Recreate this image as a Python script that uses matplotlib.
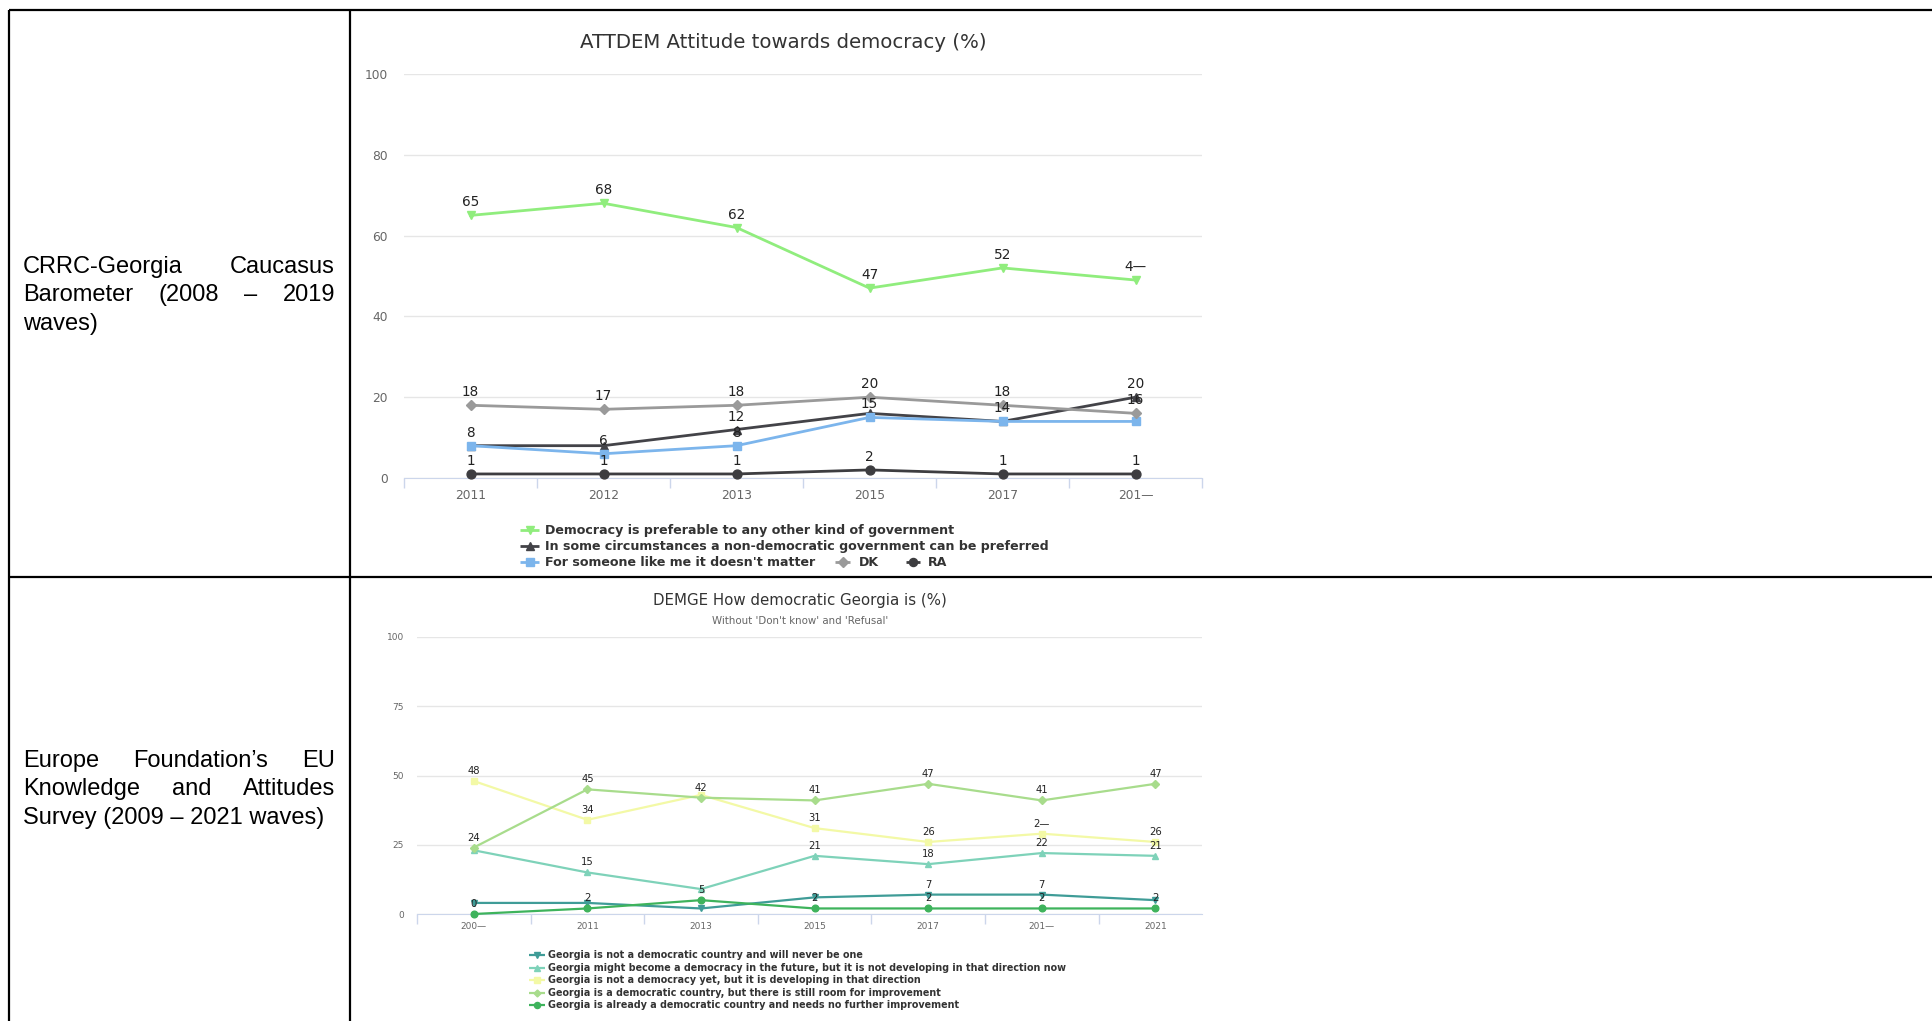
import numpy as np
import matplotlib.pyplot as plt

# Caucasus Barometer waves
cb_years = ["2011", "2012", "2013", "2015", "2017", "201—"]
democracy_preferable = [65, 68, 62, 47, 52, 49]
non_democratic_ok = [8, 8, 12, 16, 14, 20]
doesnt_matter = [8, 6, 8, 15, 14, 14]
dont_know = [18, 17, 18, 20, 18, 16]
refused = [1, 1, 1, 2, 1, 1]
cb_names = [
    "Democracy is preferable to any other kind of government",
    "In some circumstances a non-democratic government can be preferred",
    "For someone like me it doesn't matter",
    "DK",
    "RA",
]

# Europe Foundation EU survey waves
ef_years = ["200—", "2011", "2013", "2015", "2017", "201—", "2021"]
never_democracy = [4, 4, 2, 6, 7, 7, 5]
might_become = [23, 15, 9, 21, 18, 22, 21]
developing = [48, 34, 43, 31, 26, 29, 26]
room_to_improve = [24, 45, 42, 41, 47, 41, 47]
already_democratic = [0, 2, 5, 2, 2, 2, 2]
ef_names = [
    "Georgia is not a democratic country and will never be one",
    "Georgia might become a democracy in the future, but it is not developing in that direction now",
    "Georgia is not a democracy yet, but it is developing in that direction",
    "Georgia is a democratic country, but there is still room for improvement",
    "Georgia is already a democratic country and needs no further improvement",
]

cb_series = [democracy_preferable, non_democratic_ok, doesnt_matter, dont_know, refused]
cb_colors = ["#90ed7d", "#434348", "#7cb5ec", "#9a9a9a", "#3d3d40"]
cb_markers = ["v", "^", "s", "D", "o"]
cb_hidden = [[], [1, 3, 4], [0, 5], [], []]
cb_cut = [(0, 5)]

ef_series = [never_democracy, might_become, developing, room_to_improve, already_democratic]
ef_colors = ["#3f9c97", "#7ed2b9", "#f3f9a6", "#a8dc8c", "#3eb35c"]
ef_markers = ["v", "^", "s", "D", "o"]
ef_hidden = [[0, 1, 2, 3, 6], [0, 2], [2], [], []]
ef_cut = [(2, 5)]

W, H = 1932, 1021
fig = plt.figure(figsize=(W / 100, H / 100), dpi=100)
fig.patch.set_facecolor("white")

bg = fig.add_axes([0, 0, 1, 1])
bg.set_xlim(0, W)
bg.set_ylim(H, 0)
bg.axis("off")

# table borders
border = dict(color="black", lw=1.6, solid_capstyle="butt")
bg.plot([9, W], [10, 10], **border)
bg.plot([9, W], [577, 577], **border)
bg.plot([9, 9], [10, H], **border)
bg.plot([350, 350], [10, H], **border)

renderer = fig.canvas.get_renderer()


def justified(lines, x0, x1, y0, step, size=17):
    for k, line in enumerate(lines):
        y = y0 + k * step
        if k == len(lines) - 1:
            bg.text(x0, y, line, fontsize=size, family="Liberation Sans",
                    va="center", ha="left")
            continue
        words = line.split(" ")
        texts = [bg.text(x0, y, w, fontsize=size, family="Liberation Sans",
                         va="center", ha="left") for w in words]
        widths = [t.get_window_extent(renderer).width for t in texts]
        gap = (x1 - x0 - sum(widths)) / (len(words) - 1)
        x = x0
        for t, w in zip(texts, widths):
            t.set_x(x)
            x += w + gap


justified(["CRRC-Georgia Caucasus", "Barometer (2008 – 2019", "waves)"], 23, 335, 267, 28.3)
justified(["Europe Foundation’s EU", "Knowledge and Attitudes", "Survey (2009 – 2021 waves)"],
          23, 335, 761, 28.3)


def px_axes(left, top, right, bottom):
    return fig.add_axes([left / W, 1 - bottom / H, (right - left) / W, (bottom - top) / H])


def line_chart(ax, cats, series, colors, markers, hidden, cut, yticks, xmax,
               lw, ms, label_size, label_off, tick_size, xpad, ypad):
    n = len(cats)
    x = np.arange(n)
    for i, vals in enumerate(series):
        ax.plot(x, vals, color=colors[i], marker=markers[i], lw=lw,
                ms=ms * (0.8 if markers[i] == "D" else 1), clip_on=False, zorder=3 + i)
    for i, vals in enumerate(series):
        for j, v in enumerate(vals):
            if j in hidden[i]:
                continue
            txt = str(v)
            if (i, j) in cut:
                txt = txt[:-1] + "—"
            ax.annotate(txt, (j, v), xytext=(0, label_off), textcoords="offset pixels",
                        ha="center", va="center", fontsize=label_size, color="#222222",
                        zorder=20, annotation_clip=False)
    ax.set_xlim(-0.5, xmax)
    ax.set_ylim(0, 100)
    ax.set_yticks(yticks)
    ax.grid(axis="y", color="#e6e6e6", lw=1)
    ax.set_axisbelow(True)
    for s in ["top", "right", "left"]:
        ax.spines[s].set_visible(False)
    ax.spines["bottom"].set_color("#ccd6eb")
    ax.set_xticks(np.arange(-0.5, xmax + 0.01, 1.0))
    ax.set_xticklabels([])
    ax.set_xticks(x, cats, minor=True)
    ax.tick_params(axis="x", which="major", length=7.2, color="#ccd6eb", width=1)
    ax.tick_params(axis="x", which="minor", length=0, pad=xpad, labelsize=tick_size,
                   labelcolor="#666666")
    ax.tick_params(axis="y", length=0, pad=ypad, labelsize=tick_size, labelcolor="#666666")
    ax.set_facecolor("none")


ax1 = px_axes(404, 74, 1202, 478)
line_chart(ax1, cb_years, cb_series, cb_colors, cb_markers, cb_hidden, cb_cut,
           [0, 20, 40, 60, 80, 100], 5.5, lw=2.0, ms=6.4, label_size=9.8, label_off=13,
           tick_size=8.8, xpad=8, ypad=11.5)

ax2 = px_axes(417, 637, 1202, 914)
line_chart(ax2, ef_years, ef_series, ef_colors, ef_markers, ef_hidden, ef_cut,
           [0, 25, 50, 75, 100], 6.41, lw=1.6, ms=4.8, label_size=7.2, label_off=10,
           tick_size=6.5, xpad=6, ypad=9.4)

# titles
bg.text(783, 43, "ATTDEM Attitude towards democracy (%)", ha="center", va="center",
        fontsize=14.2, color="#333333")
bg.text(800, 600, "DEMGE How democratic Georgia is (%)", ha="center", va="center",
        fontsize=10.8, color="#333333")
bg.text(800, 621, "Without 'Don't know' and 'Refusal'", ha="center", va="center",
        fontsize=7.4, color="#666666")


def legend_item(x0, x1, y, color, marker, ms, lw, text, tx, size):
    bg.plot([x0, x1], [y, y], color=color, lw=lw, solid_capstyle="butt")
    bg.plot([(x0 + x1) / 2], [y], marker=marker, color=color,
            ms=ms * (0.8 if marker == "D" else 1))
    bg.text(tx, y, text, ha="left", va="center", fontsize=size,
            fontweight="bold", color="#333333")


# chart 1 legend
rows = [(520, 539, 530, 545), (520, 539, 546, 545), (520, 539, 562, 545),
        (835, 850, 562, 859), (906, 920, 562, 928)]
for (x0, x1, y, tx), c, m, name in zip(rows, cb_colors, cb_markers, cb_names):
    legend_item(x0, x1, y, c, m, 5.8, 2.0, name, tx, 9.05)

# chart 2 legend
for k, (c, m, name) in enumerate(zip(ef_colors, ef_markers, ef_names)):
    legend_item(529, 545, 955 + k * 12.6, c, m, 4.4, 1.6, name, 548, 6.95)

fig.savefig("out.png", dpi=100, facecolor="white")
